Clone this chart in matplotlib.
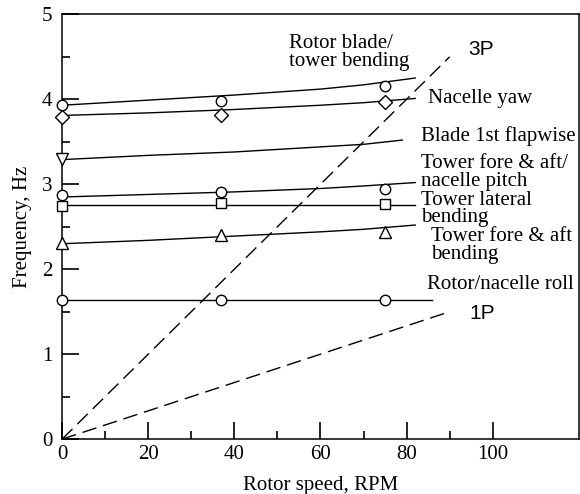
import numpy as np
import matplotlib
matplotlib.use("Agg")
import matplotlib.pyplot as plt
from matplotlib.ticker import FixedLocator

# measured points (rotor speed, RPM)
rpm_pts = [0, 37, 75]
blade_tower = [3.93, 3.98, 4.16]
nacelle_yaw = [3.79, 3.82, 3.97]
flap_rpm = [0]
flapwise = [3.30]
fa_pitch = [2.87, 2.91, 2.94]
lateral = [2.74, 2.78, 2.77]
fa_bending = [2.31, 2.40, 2.44]
roll = [1.64, 1.64, 1.64]

# predicted curves
curve_rpm = [0, 20, 40, 60, 70, 82]
blade_tower_c = [3.93, 3.99, 4.05, 4.12, 4.17, 4.25]
nacelle_yaw_c = [3.81, 3.84, 3.88, 3.93, 3.96, 4.01]
flap_rpm_c = [0, 20, 40, 60, 70, 79]
flapwise_c = [3.29, 3.34, 3.38, 3.44, 3.47, 3.52]
fa_pitch_c = [2.85, 2.88, 2.91, 2.95, 2.98, 3.02]
lateral_c = [2.76, 2.76, 2.76, 2.76, 2.76, 2.76]
fa_bending_c = [2.30, 2.34, 2.39, 2.44, 2.47, 2.52]
roll_rpm_c = [0, 86]
roll_c = [1.64, 1.64]

# per-rev excitation lines
p_rpm = [0, 90]
p1 = [0, 1.5]
p3 = [0, 4.5]

serif = "Liberation Serif"
sans = "Liberation Sans"
plt.rcParams["font.family"] = serif
plt.rcParams["font.size"] = 15

fig = plt.figure(figsize=(5.8, 4.94), dpi=100)
ax = fig.add_axes([0.107, 0.111, 0.891, 0.860])

lw = 1.0
dash = (0, (10.5, 5))
ax.plot(p_rpm, p3, color="black", lw=lw, ls=dash)
ax.plot(p_rpm, p1, color="black", lw=lw, ls=dash)

ax.plot(curve_rpm, blade_tower_c, color="black", lw=lw)
ax.plot(curve_rpm, nacelle_yaw_c, color="black", lw=lw)
ax.plot(flap_rpm_c, flapwise_c, color="black", lw=lw)
ax.plot(curve_rpm, fa_pitch_c, color="black", lw=lw)
ax.plot(curve_rpm, lateral_c, color="black", lw=lw)
ax.plot(curve_rpm, fa_bending_c, color="black", lw=lw)
ax.plot(roll_rpm_c, roll_c, color="black", lw=lw)

mk = dict(ls="none", mfc="white", mec="black", mew=1.0, clip_on=False, zorder=5)
ax.plot(rpm_pts, blade_tower, marker="o", ms=7.5, **mk)
ax.plot(rpm_pts, nacelle_yaw, marker="D", ms=7.5, **mk)
ax.plot(flap_rpm, flapwise, marker="v", ms=8.5, **mk)
ax.plot(rpm_pts, fa_pitch, marker="o", ms=7.5, **mk)
ax.plot(rpm_pts, lateral, marker="s", ms=7.5, **mk)
ax.plot(rpm_pts, fa_bending, marker="^", ms=8.5, **mk)
ax.plot(rpm_pts, roll, marker="o", ms=7.5, **mk)

ls_ml = 0.9
ax.text(52.6, 4.55, "Rotor blade/\ntower bending", va="center", ha="left", linespacing=ls_ml)
ax.text(94.4, 4.59, "3P", family=sans, va="center", ha="left")
ax.text(85.0, 4.01, "Nacelle yaw", va="center", ha="left")
ax.text(83.3, 3.57, "Blade 1st flapwise", va="center", ha="left")
ax.text(83.4, 3.14, "Tower fore & aft/\nnacelle pitch", va="center", ha="left", linespacing=ls_ml)
ax.text(83.4, 2.71, "Tower lateral\nbending", va="center", ha="left", linespacing=ls_ml)
ax.text(85.6, 2.28, "Tower fore & aft\nbending", va="center", ha="left", linespacing=ls_ml)
ax.text(84.8, 1.82, "Rotor/nacelle roll", va="center", ha="left")
ax.text(94.5, 1.48, "1P", family=sans, va="center", ha="left")

ax.set_xlim(0, 120)
ax.set_ylim(0, 5)
ax.set_xticks([0, 20, 40, 60, 80, 100])
ax.xaxis.set_minor_locator(FixedLocator([10, 30, 50, 70, 90]))
ax.set_yticks([0, 1, 2, 3, 4, 5])
ax.yaxis.set_minor_locator(FixedLocator([0.5, 1.5, 2.5, 3.5, 4.5]))
ax.tick_params(which="both", direction="in", width=1.2, top=False, right=False)
ax.tick_params(which="major", length=12, labelsize=15)
ax.tick_params(axis="y", which="major", pad=7)
ax.tick_params(axis="x", which="major", pad=4)
ax.tick_params(which="minor", length=6)
for s in ax.spines.values():
    s.set_linewidth(1.1)

ax.set_xlabel("Rotor speed, RPM", labelpad=9)
ax.set_ylabel("Frequency, Hz", labelpad=7)

fig.savefig("out.png", dpi=100)
